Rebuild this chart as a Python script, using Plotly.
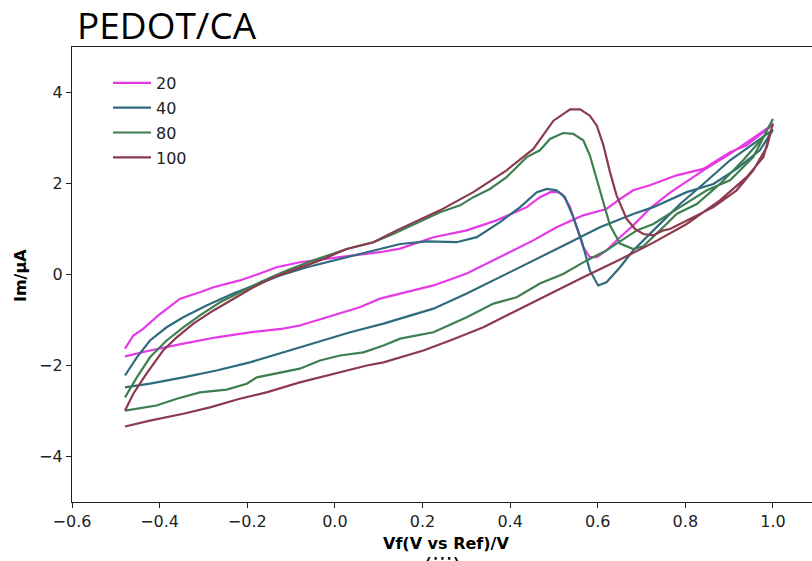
import plotly.graph_objects as go

# ---------------- data ----------------
series_names = ["20", "40", "80", "100"]
series_colors = ["#e639e6", "#2f6b7e", "#3e7f50", "#8c3a4e"]

# scan 20 : lower branch (increasing V) and upper/peaked branch (increasing V)
v20_low = [-0.479, -0.422, -0.346, -0.270, -0.194, -0.118, -0.080, -0.004, 0.057, 0.103, 0.149, 0.225,
           0.301, 0.377, 0.453, 0.506, 0.567, 0.620, 0.651, 0.681, 0.719, 0.780, 0.841, 0.902, 0.940, 1.000]
i20_low = [-1.80, -1.67, -1.52, -1.38, -1.27, -1.19, -1.12, -0.90, -0.72, -0.53, -0.42, -0.24,
           0.02, 0.38, 0.75, 1.04, 1.30, 1.44, 1.66, 1.85, 1.96, 2.18, 2.32, 2.69, 2.84, 3.30]
v20_up = [-0.479, -0.460, -0.437, -0.403, -0.353, -0.308, -0.277, -0.217, -0.171, -0.133, -0.080, -0.019,
          0.042, 0.103, 0.149, 0.225, 0.301, 0.369, 0.438, 0.468, 0.492, 0.511, 0.521, 0.537, 0.552,
          0.567, 0.582, 0.598, 0.620, 0.651, 0.681, 0.719, 0.765, 0.841, 0.902, 1.000]
i20_up = [-1.63, -1.34, -1.19, -0.90, -0.53, -0.39, -0.28, -0.13, 0.02, 0.16, 0.27, 0.35,
          0.42, 0.49, 0.57, 0.82, 0.97, 1.19, 1.48, 1.70, 1.81, 1.81, 1.74, 1.48, 1.04,
          0.60, 0.38, 0.38, 0.53, 0.82, 1.08, 1.45, 1.80, 2.29, 2.65, 3.30]

# scan 40
v40_low = [-0.479, -0.422, -0.346, -0.270, -0.194, -0.118, -0.041, 0.035, 0.111, 0.149, 0.225, 0.301,
           0.377, 0.453, 0.529, 0.605, 0.681, 0.727, 0.803, 0.864, 0.917, 0.970, 1.000]
i40_low = [-2.48, -2.40, -2.26, -2.11, -1.93, -1.71, -1.49, -1.27, -1.08, -0.97, -0.75, -0.42,
           -0.06, 0.31, 0.67, 1.04, 1.33, 1.48, 1.81, 1.99, 2.32, 2.73, 3.18]
v40_up = [-0.479, -0.452, -0.422, -0.384, -0.346, -0.293, -0.232, -0.186, -0.125, -0.064, -0.004, 0.073,
          0.149, 0.210, 0.278, 0.324, 0.377, 0.423, 0.461, 0.484, 0.506, 0.525, 0.544, 0.563, 0.582,
          0.601, 0.620, 0.651, 0.681, 0.727, 0.788, 0.841, 0.902, 0.955, 1.000]
i40_up = [-2.22, -1.82, -1.45, -1.16, -0.94, -0.68, -0.42, -0.24, -0.02, 0.16, 0.31, 0.49,
          0.67, 0.73, 0.71, 0.82, 1.15, 1.48, 1.81, 1.88, 1.85, 1.70, 1.26, 0.75, 0.09,
          -0.24, -0.17, 0.16, 0.53, 0.97, 1.55, 1.99, 2.51, 2.87, 3.18]

# scan 80
v80_low = [-0.479, -0.407, -0.361, -0.308, -0.247, -0.201, -0.178, -0.125, -0.080, -0.034, 0.012, 0.065,
           0.111, 0.149, 0.225, 0.301, 0.362, 0.415, 0.468, 0.521, 0.575, 0.620, 0.658, 0.689, 0.727,
           0.765, 0.788, 0.849, 0.902, 0.955, 1.000]
i80_low = [-2.99, -2.88, -2.73, -2.59, -2.53, -2.40, -2.26, -2.15, -2.07, -1.89, -1.78, -1.71,
           -1.56, -1.41, -1.27, -0.94, -0.64, -0.50, -0.20, 0.01, 0.31, 0.53, 0.78, 0.97, 1.11,
           1.33, 1.48, 1.85, 2.07, 2.58, 3.42]
v80_up = [-0.479, -0.452, -0.422, -0.384, -0.346, -0.308, -0.262, -0.217, -0.171, -0.110, -0.049, 0.027,
          0.088, 0.133, 0.180, 0.240, 0.286, 0.316, 0.354, 0.392, 0.438, 0.468, 0.491, 0.521, 0.544,
          0.567, 0.582, 0.598, 0.613, 0.628, 0.651, 0.681, 0.704, 0.727, 0.757, 0.780, 0.826, 0.879,
          0.932, 0.978, 1.000]
i80_up = [-2.70, -2.26, -1.82, -1.45, -1.16, -0.90, -0.61, -0.39, -0.17, 0.09, 0.31, 0.56,
          0.71, 0.89, 1.10, 1.37, 1.52, 1.70, 1.88, 2.14, 2.58, 2.73, 2.98, 3.11, 3.09,
          2.95, 2.62, 2.10, 1.59, 1.08, 0.68, 0.56, 0.62, 0.82, 1.11, 1.33, 1.55, 1.99,
          2.51, 3.02, 3.42]

# scan 100
v100_low = [-0.479, -0.422, -0.346, -0.285, -0.217, -0.156, -0.080, -0.004, 0.073, 0.111, 0.149, 0.202,
            0.263, 0.339, 0.415, 0.491, 0.567, 0.651, 0.727, 0.803, 0.879, 0.940, 0.978, 1.000]
i100_low = [-3.34, -3.21, -3.06, -2.92, -2.73, -2.59, -2.37, -2.18, -2.00, -1.93, -1.82, -1.67,
            -1.45, -1.16, -0.79, -0.42, -0.06, 0.33, 0.70, 1.11, 1.63, 2.14, 2.58, 3.32]
v100_up = [-0.479, -0.460, -0.430, -0.392, -0.361, -0.323, -0.277, -0.232, -0.186, -0.140, -0.087, -0.034,
           0.027, 0.088, 0.141, 0.240, 0.316, 0.392, 0.453, 0.499, 0.537, 0.560, 0.582, 0.598, 0.613,
           0.628, 0.643, 0.666, 0.685, 0.704, 0.727, 0.750, 0.765, 0.803, 0.864, 0.917, 0.955, 0.986,
           1.000]
i100_up = [-2.99, -2.62, -2.18, -1.67, -1.38, -1.08, -0.79, -0.53, -0.28, -0.06, 0.12, 0.31,
           0.56, 0.71, 0.97, 1.41, 1.81, 2.29, 2.76, 3.38, 3.63, 3.63, 3.49, 3.27, 2.84,
           2.25, 1.74, 1.22, 1.00, 0.89, 0.86, 0.97, 1.00, 1.19, 1.48, 1.85, 2.29, 2.80,
           3.32]

x_tick_vals = [-0.6, -0.4, -0.2, 0.0, 0.2, 0.4, 0.6, 0.8, 1.0]
x_tick_text = ["\u22120.6", "\u22120.4", "\u22120.2", "0.0", "0.2", "0.4", "0.6", "0.8", "1.0"]
y_tick_vals = [-4, -2, 0, 2, 4]
y_tick_text = ["\u22124", "\u22122", "0", "2", "4"]

title_text = "PEDOT/CA"
x_title = "Vf(V vs Ref)/V"
y_title = "Im/\u03bcA"
caption_text = "(iii)"

# ---------------- figure ----------------
branches = [
    (v20_low, i20_low, v20_up, i20_up),
    (v40_low, i40_low, v40_up, i40_up),
    (v80_low, i80_low, v80_up, i80_up),
    (v100_low, i100_low, v100_up, i100_up),
]

fig = go.Figure()
for name, color, (vl, il, vu, iu) in zip(series_names, series_colors, branches):
    xs = list(vl) + list(reversed(vu))[1:]
    ys = list(il) + list(reversed(iu))[1:]
    fig.add_trace(go.Scatter(
        x=xs, y=ys, mode="lines", name=name, legendgroup=name,
        line=dict(color=color, width=2.2),
    ))

W, H = 812, 561
L, T = 72, 47
B = H - 502
R = 0
pw, ph = W - L - R, H - T - B


def px_x(p):  # page pixel -> paper x
    return (p - L) / pw


def px_y(p):  # page pixel -> paper y
    return (H - B - p) / ph


axis_font = dict(family="DejaVu Sans", size=16, color="#222222")

fig.update_layout(
    width=W, height=H,
    margin=dict(l=L, r=R, t=T, b=B, pad=0),
    paper_bgcolor="white", plot_bgcolor="white",
    showlegend=True,
    legend=dict(
        x=px_x(108), y=px_y(66), xanchor="left", yanchor="top",
        bgcolor="rgba(0,0,0,0)", borderwidth=0,
        font=dict(family="DejaVu Sans", size=16, color="#222222"),
        itemwidth=38, tracegroupgap=1,
    ),
    xaxis=dict(
        range=[-0.6, -0.6 + (W - L) / 438.1],
        tickvals=x_tick_vals, ticktext=x_tick_text,
        ticks="outside", ticklen=5, tickwidth=1.2, tickcolor="#222222",
        showline=True, linecolor="#222222", linewidth=1.3, mirror=True,
        showgrid=False, zeroline=False, tickfont=axis_font,
    ),
    yaxis=dict(
        range=[-5, 5],
        tickvals=y_tick_vals, ticktext=y_tick_text,
        ticks="outside", ticklen=5, tickwidth=1.2, tickcolor="#222222",
        showline=True, linecolor="#222222", linewidth=1.3, mirror=False,
        showgrid=False, zeroline=False, tickfont=axis_font,
    ),
    annotations=[
        dict(text=title_text, xref="paper", yref="paper", x=px_x(75), y=px_y(52),
             xanchor="left", yanchor="bottom", showarrow=False,
             font=dict(family="Open Sans", size=37, color="black")),
        dict(text="<b>" + x_title + "</b>", xref="paper", yref="paper", x=px_x(446), y=px_y(543),
             xanchor="center", yanchor="middle", showarrow=False,
             font=dict(family="DejaVu Sans", size=16, color="black")),
        dict(text="<b>" + y_title + "</b>", xref="paper", yref="paper", x=px_x(20), y=px_y(276),
             xanchor="center", yanchor="middle", showarrow=False, textangle=-90,
             font=dict(family="DejaVu Sans", size=16, color="black")),
        dict(text=caption_text, xref="paper", yref="paper", x=px_x(442), y=px_y(552),
             xanchor="center", yanchor="top", showarrow=False,
             font=dict(family="DejaVu Sans", size=24, color="black")),
    ],
)

fig.write_html(
    "out.html",
    config={"displayModeBar": False},
    post_script="document.body.style.margin='0px';document.body.style.overflow='hidden';",
)
